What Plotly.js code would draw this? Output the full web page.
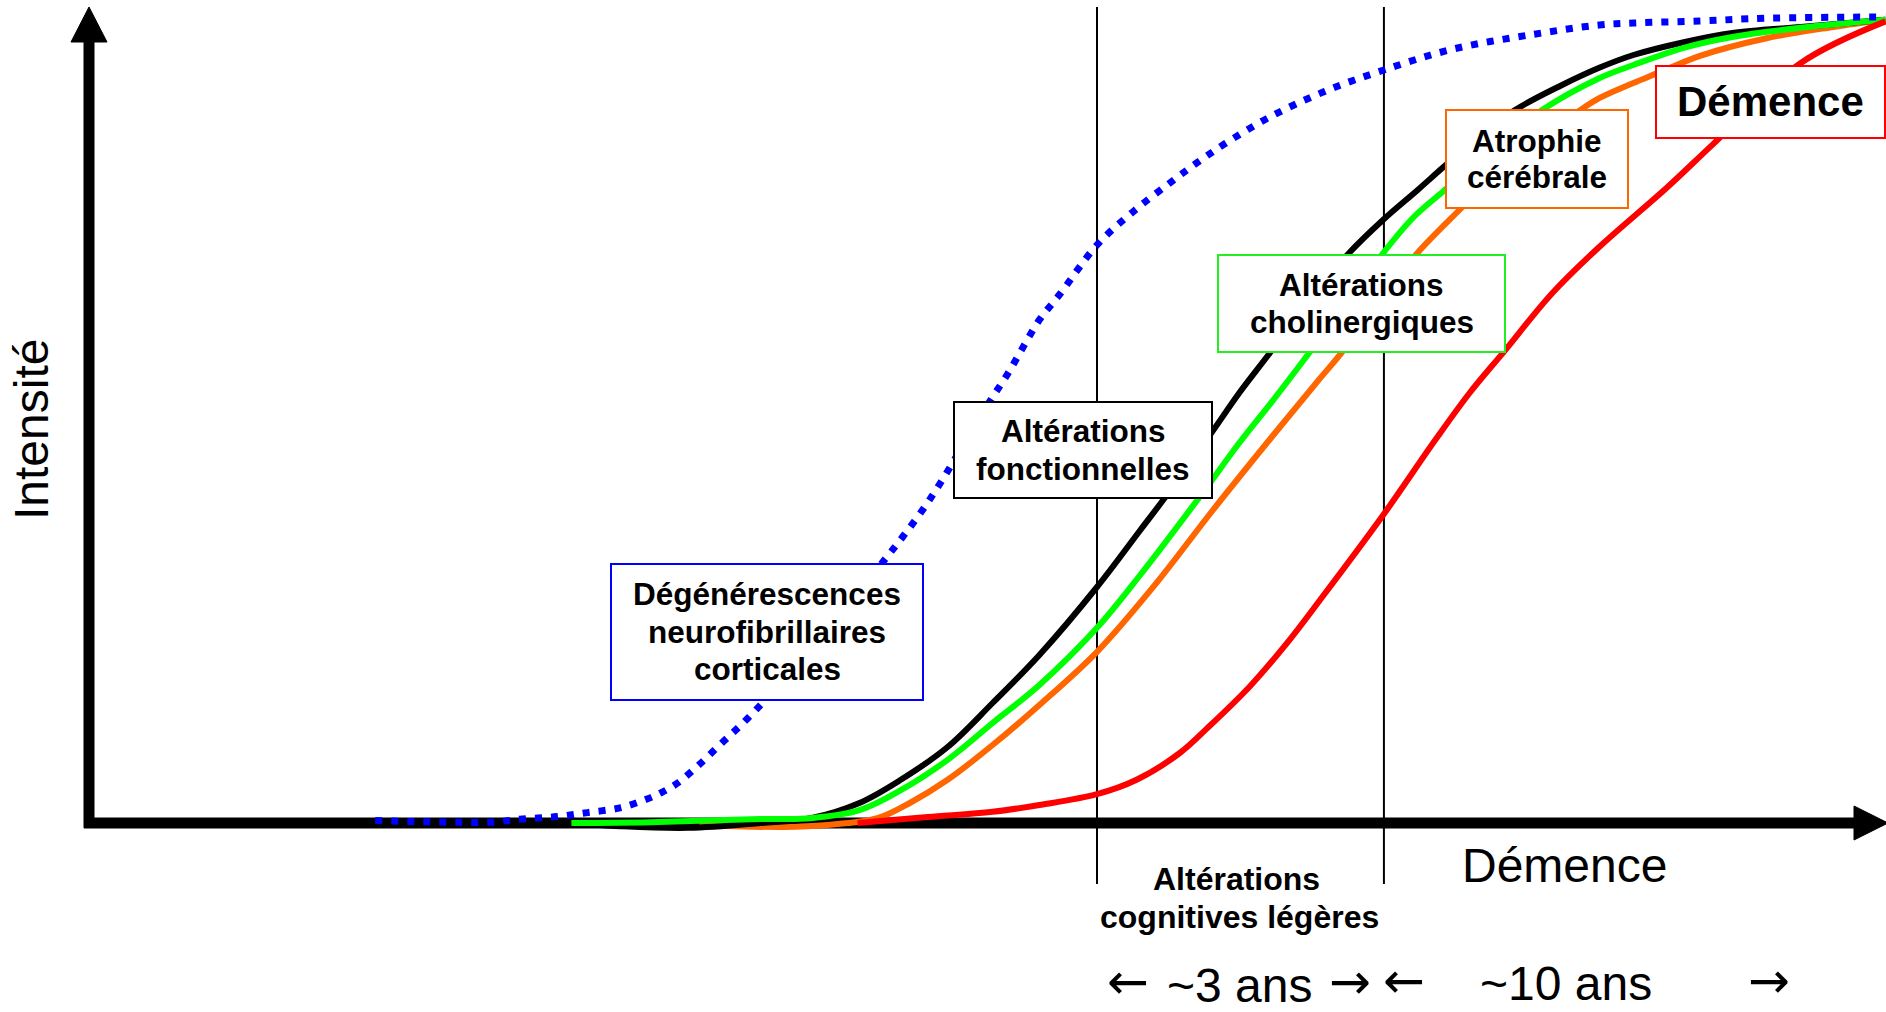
<!DOCTYPE html>
<html>
<head>
<meta charset="utf-8">
<script src="https://cdn.plot.ly/plotly-3.0.1.min.js"></script>
<style>
html,body{margin:0;padding:0;background:#ffffff;overflow:hidden;}
#chart{width:1886px;height:1012px;}
</style>
</head>
<body>
<div id="chart"></div>
<script>
// ---- Data: time (arbitrary units) vs. intensity (0-100) ----
const seriesNames = [
  "Dégénérescences neurofibrillaires corticales",
  "Altérations fonctionnelles",
  "Altérations cholinergiques",
  "Atrophie cérébrale",
  "Démence"
];

const blueTime = [15.9,20.1,22.3,24.1,26.0,27.7,29.5,31.0,31.8,32.7,33.9,35.2,36.6,40.6,44.2,45.2,46.3,47.3,48.9,50.1,51.0,51.9,52.8,53.9,56.0,58.0,60.1,61.6,63.1,65.6,68.6,71.9,75.8,80.3,83.9,85.8,89.5,93.2,99.8];
const blueIntensity = [0.3,0.1,0.1,0.5,0.8,1.3,1.9,3.0,3.8,5.0,7.3,10.1,13.1,22.9,32.9,35.75,39.1,42.5,48.5,52.9,56.0,59.5,62.9,66.0,72.25,76.4,80.1,82.6,84.9,88.25,91.4,94.1,96.75,98.6,99.75,100.0,100.25,100.6,100.75];

const blackTime = [26.8,29.5,33.3,37.3,40.1,42.8,45.1,47.7,50.2,52.8,56.0,58.4,59.8,62.4,63.9,65.6,67.8,69.9,71.9,73.8,75.2,77.3,79.2,81.7,83.9,85.8,88.6,91.3,95.1,99.8];
const blackIntensity = [0,-0.4,-0.6,0,0.6,2.5,5.4,9.5,15.0,21.0,29.5,36.6,40.75,48.9,53.75,58.75,65.4,71.0,75.4,79.1,81.9,86.0,89.1,92.1,94.4,96.0,97.6,98.75,99.5,100.4];

const greenTime = [26.8,31.2,37.3,40.1,42.8,45.1,47.7,50.2,52.8,56.0,58.4,61.7,63.9,65.8,67.7,69.8,71.9,73.6,75.3,77.8,80.7,83.9,85.8,88.6,91.3,95.1,99.8];
const greenIntensity = [0,0.1,0.5,0.6,1.6,4.1,7.9,12.5,17.25,24.4,31.0,40.75,47.5,52.9,58.5,64.75,71.25,75.75,79.1,84.1,89.1,93.1,94.75,96.9,98.25,99.4,100.4];

const orangeTime = [33.9,38.6,41.0,43.8,45.6,47.7,50.2,52.8,56.0,59.3,62.4,65.8,68.4,69.7,71.7,73.8,76.3,79.5,82.5,83.9,85.8,87.1,89.5,93.2,96.9,99.8];
const orangeIntensity = [-0.25,-0.5,-0.25,0.6,2.5,5.4,9.75,14.75,21.4,30.0,39.0,48.5,55.6,59.1,65.4,71.25,77.0,84.1,88.6,90.6,92.5,93.7,95.9,98.1,99.5,100.4];

const redTime = [42.7,46.6,50.2,52.8,56.0,58.2,60.6,62.1,64.5,66.7,68.4,71.9,74.8,76.7,78.6,81.3,83.9,87.7,90.2,95.1,99.8];
const redIntensity = [0,0.75,1.4,2.25,3.6,5.4,8.75,11.8,17.1,22.9,27.9,38.5,47.9,53.75,58.9,66.25,72.0,79.5,84.8,95.0,100.2];

// phase boundaries (MCI onset, dementia onset)
const phaseBoundaries = [56.0, 71.94];
const phaseLabels = ["Altérations<br>cognitives légères", "Démence"];
const durationLabels = ["~3 ans", "~10 ans"];
const axisTitle = "Intensité";

// ---- Layout helpers (figure pixels -> paper fractions) ----
const W = 1886, H = 1012;
const fx = p => p / W;
const fy = p => 1 - p / H;
const FONT = "Liberation Sans, Arial, sans-serif";

const colors = {blue:"#0000ff", black:"#000000", green:"#00ff00", orange:"#ff6600", red:"#ff0000"};

function lineTrace(x, y, color, name, extra) {
  return Object.assign({
    type: "scatter", mode: "lines", x: x, y: y, name: name,
    line: {color: color, width: 6, shape: "spline", smoothing: 1.0},
    hoverinfo: "skip"
  }, extra || {});
}

const traces = [
  lineTrace(orangeTime, orangeIntensity, colors.orange, seriesNames[3]),
  lineTrace(blackTime, blackIntensity, colors.black, seriesNames[1]),
  lineTrace(greenTime, greenIntensity, colors.green, seriesNames[2]),
  lineTrace(redTime, redIntensity, colors.red, seriesNames[4]),
  lineTrace(blueTime, blueIntensity, colors.blue, seriesNames[0], {line:{color:colors.blue, width:7, dash:"7px,9px", shape:"spline", smoothing:1.0}})
];

const shapes = [];
// axes (thick arrows)
shapes.push({type:"line", xref:"paper", yref:"paper", x0:fx(89), x1:fx(89), y0:fy(828), y1:fy(40), line:{color:"#000", width:11}, layer:"below"});
shapes.push({type:"path", xref:"paper", yref:"paper", path:`M ${fx(71)} ${fy(42)} L ${fx(89)} ${fy(7)} L ${fx(107)} ${fy(42)} Z`, fillcolor:"#000", line:{color:"#000", width:1}, layer:"below"});
shapes.push({type:"line", xref:"paper", yref:"paper", x0:fx(84), x1:fx(1856), y0:fy(823), y1:fy(823), line:{color:"#000", width:11}, layer:"below"});
shapes.push({type:"path", xref:"paper", yref:"paper", path:`M ${fx(1854)} ${fy(806)} L ${fx(1888)} ${fy(823)} L ${fx(1854)} ${fy(840)} Z`, fillcolor:"#000", line:{color:"#000", width:1}, layer:"below"});
// phase boundaries
phaseBoundaries.forEach(b => {
  shapes.push({type:"line", xref:"x", yref:"paper", x0:b, x1:b, y0:fy(7), y1:fy(884), line:{color:"#000", width:2}, layer:"below"});
});

// labelled boxes
const boxes = [
  {x0:611, x1:923, y0:564, y1:700, color:colors.blue, lines:["Dégénérescences","neurofibrillaires","corticales"], ys:[594,632,669], size:31.5},
  {x0:954, x1:1212, y0:402, y1:498, color:colors.black, lines:["Altérations","fonctionnelles"], ys:[431,469], size:31.5},
  {x0:1218, x1:1505, y0:255, y1:352, color:"#22ee22", lines:["Altérations","cholinergiques"], ys:[285,322], size:31.5},
  {x0:1446, x1:1628, y0:110, y1:208, color:colors.orange, lines:["Atrophie","cérébrale"], ys:[141,177], size:31.5},
  {x0:1656, x1:1885, y0:66, y1:138, color:colors.red, lines:["Démence"], ys:[102], size:42}
];

const annotations = [];
boxes.forEach(b => {
  shapes.push({type:"rect", xref:"paper", yref:"paper", x0:fx(b.x0), x1:fx(b.x1), y0:fy(b.y1), y1:fy(b.y0),
    fillcolor:"#ffffff", line:{color:b.color, width:2}, layer:"above"});
  const cx = (b.x0 + b.x1) / 2;
  b.lines.forEach((t, i) => {
    annotations.push({xref:"paper", yref:"paper", x:fx(cx), y:fy(b.ys[i]), xanchor:"center", yanchor:"middle",
      text:"<b>"+t+"</b>", showarrow:false, font:{family:FONT, size:b.size, color:"#000"}});
  });
});

// axis title
annotations.push({xref:"paper", yref:"paper", x:fx(31), y:fy(430), xanchor:"center", yanchor:"middle", textangle:-90,
  text:axisTitle, showarrow:false, font:{family:FONT, size:48, color:"#000"}});

// phase labels under the axis
const mci = phaseLabels[0].split("<br>");
annotations.push({xref:"paper", yref:"paper", x:fx(1236), y:fy(879), xanchor:"center", yanchor:"middle",
  text:"<b>"+mci[0]+"</b>", showarrow:false, font:{family:FONT, size:32, color:"#000"}});
annotations.push({xref:"paper", yref:"paper", x:fx(1239), y:fy(917), xanchor:"center", yanchor:"middle",
  text:"<b>"+mci[1]+"</b>", showarrow:false, font:{family:FONT, size:32, color:"#000"}});
annotations.push({xref:"paper", yref:"paper", x:fx(1564), y:fy(865), xanchor:"center", yanchor:"middle",
  text:phaseLabels[1], showarrow:false, font:{family:FONT, size:48, color:"#000"}});

// durations with arrows
const ARROWFONT = "DejaVu Sans, sans-serif";
const durItems = [
  {t:"\u2190", x:1128, y:982, f:ARROWFONT, s:50}, {t:durationLabels[0], x:1239, y:985, f:FONT, s:48}, {t:"\u2192", x:1350, y:982, f:ARROWFONT, s:50},
  {t:"\u2190", x:1404, y:981, f:ARROWFONT, s:50}, {t:durationLabels[1], x:1566, y:983, f:FONT, s:48}, {t:"\u2192", x:1769, y:981, f:ARROWFONT, s:50}
];
durItems.forEach(d => {
  annotations.push({xref:"paper", yref:"paper", x:fx(d.x), y:fy(d.y), xanchor:"center", yanchor:"middle",
    text:d.t, showarrow:false, font:{family:d.f, size:d.s, color:"#000"}});
});

const layout = {
  width: W, height: H,
  margin: {l:0, r:0, t:0, b:0, pad:0},
  paper_bgcolor: "#ffffff", plot_bgcolor: "#ffffff",
  showlegend: false,
  xaxis: {range:[-89/18, 1797/18], visible:false, fixedrange:true},
  yaxis: {range:[-189/8, 823/8], visible:false, fixedrange:true},
  shapes: shapes,
  annotations: annotations
};

Plotly.newPlot("chart", traces, layout, {displayModeBar:false, staticPlot:true});
</script>
</body>
</html>
